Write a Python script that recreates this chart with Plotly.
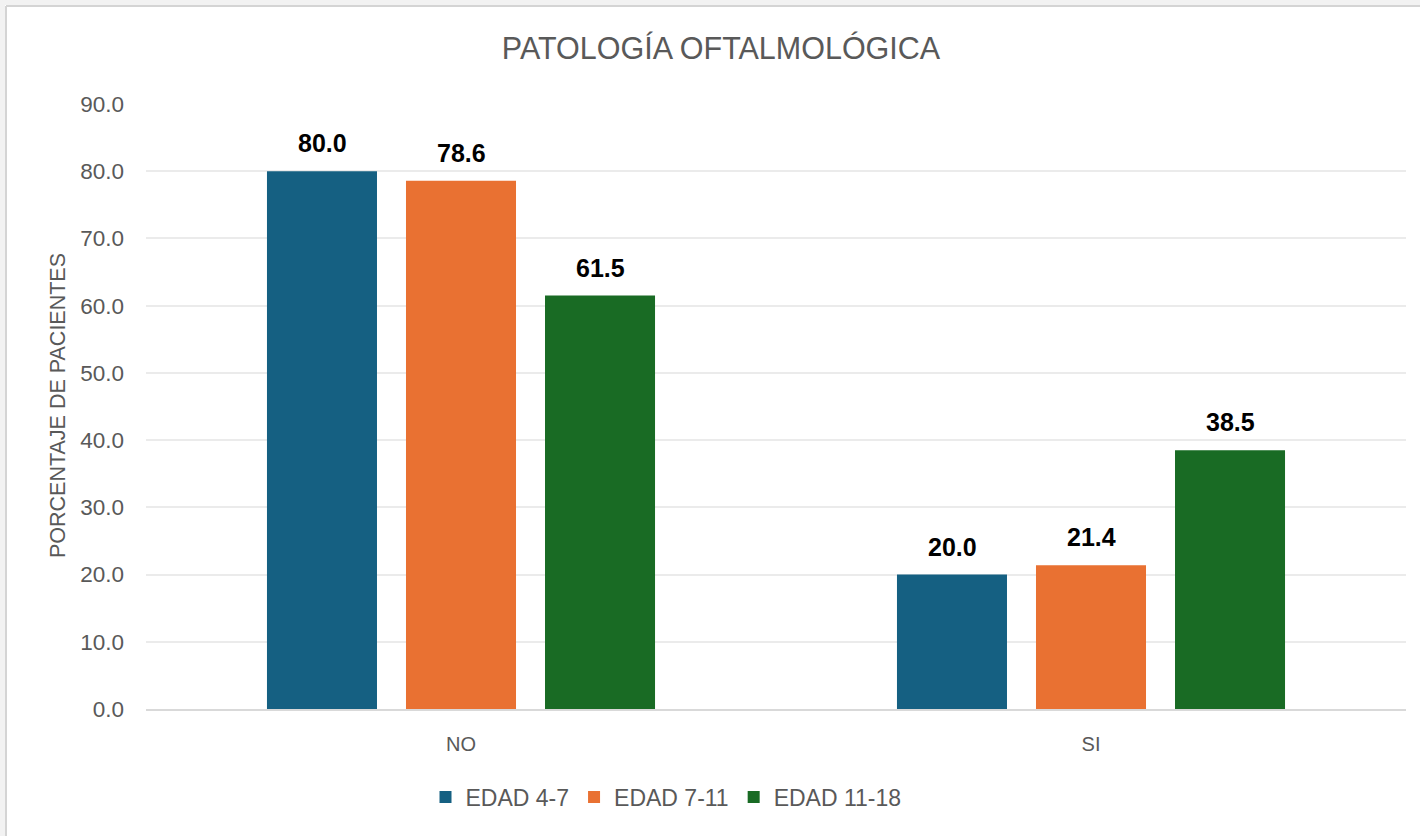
import plotly.graph_objects as go

categories = ["NO", "SI"]
series_names = ["EDAD 4-7", "EDAD 7-11", "EDAD 11-18"]
edad_4_7 = [80.0, 20.0]
edad_7_11 = [78.6, 21.4]
edad_11_18 = [61.5, 38.5]
series_values = [edad_4_7, edad_7_11, edad_11_18]
colors = ["#156082", "#E97132", "#196B24"]
y_ticks = [0, 10, 20, 30, 40, 50, 60, 70, 80, 90]

W, H = 1420, 836
ML, MR, MT, MB = 146, 14, 104, 127
PW, PH = W - ML - MR, H - MT - MB

def px(x):
    return (x - ML) / PW

def py(y):
    return (H - MB - y) / PH

FONT = "Liberation Sans, Arial, sans-serif"
GRAY = "#595959"

fig = go.Figure()
for name, vals, col in zip(series_names, series_values, colors):
    fig.add_trace(go.Bar(
        name=name, x=categories, y=vals, marker_color=col,
        marker_line_width=0,
    ))

# data labels
slot = 139
for i, vals in enumerate(series_values):
    for c, v in zip(categories, vals):
        fig.add_annotation(
            x=c, y=v, xref="x", yref="y", text=f"<b>{v:.1f}</b>",
            showarrow=False, xshift=(i - 1) * slot, yanchor="bottom", yshift=12,
            font=dict(family=FONT, size=25, color="#000000"),
        )

# y axis title
fig.add_annotation(
    x=px(58), y=py(406), xref="paper", yref="paper",
    text="PORCENTAJE DE PACIENTES", textangle=-90, showarrow=False,
    font=dict(family=FONT, size=21.5, color=GRAY),
    xanchor="center", yanchor="middle",
)

# chart frame (gray border on top/left)
shapes = [
    dict(type="rect", xref="paper", yref="paper", x0=px(0), x1=px(5), y0=py(H), y1=py(0),
         fillcolor="#f2f2f2", line_width=0, layer="below"),
    dict(type="rect", xref="paper", yref="paper", x0=px(0), x1=px(W), y0=py(5), y1=py(0),
         fillcolor="#f2f2f2", line_width=0, layer="below"),
    dict(type="line", xref="paper", yref="paper", x0=px(6), x1=px(6), y0=py(H), y1=py(6),
         line=dict(color="#d4d4d4", width=2)),
    dict(type="line", xref="paper", yref="paper", x0=px(6), x1=px(W), y0=py(6), y1=py(6),
         line=dict(color="#d4d4d4", width=2)),
]

fig.update_layout(
    width=W, height=H,
    margin=dict(l=ML, r=MR, t=MT, b=MB, autoexpand=False),
    paper_bgcolor="white", plot_bgcolor="white",
    barmode="group", bargap=0.338, bargroupgap=0.2086,
    title=dict(text="PATOLOGÍA OFTALMOLÓGICA", x=px(721), xref="paper", xanchor="center",
               y=1 - 48 / H, yref="container", yanchor="middle",
               font=dict(family=FONT, size=30.5, color=GRAY)),
    font=dict(family=FONT, color=GRAY),
    shapes=shapes,
    legend=dict(orientation="h", x=px(666), xanchor="center", y=py(797), yanchor="middle",
                font=dict(family=FONT, size=23, color=GRAY), traceorder="normal",
                itemwidth=30, bgcolor="rgba(0,0,0,0)"),
    showlegend=True,
)
fig.update_yaxes(
    range=[0, 90], tickvals=y_ticks, tickformat=".1f",
    showgrid=True, gridcolor="#ebebeb", gridwidth=1.5,
    zeroline=False, showline=False,
    tickfont=dict(family=FONT, size=22.5, color=GRAY),
    ticklabelstandoff=21,
)
fig.update_xaxes(
    showline=True, linecolor="#d9d9d9", linewidth=2,
    showgrid=False, ticks="",
    tickfont=dict(family=FONT, size=20, color=GRAY),
    ticklabelstandoff=16,
)

fig.write_html(
    "out.html",
    config={"displayModeBar": False},
    post_script="document.body.style.margin='0';document.body.style.overflow='hidden';",
)
